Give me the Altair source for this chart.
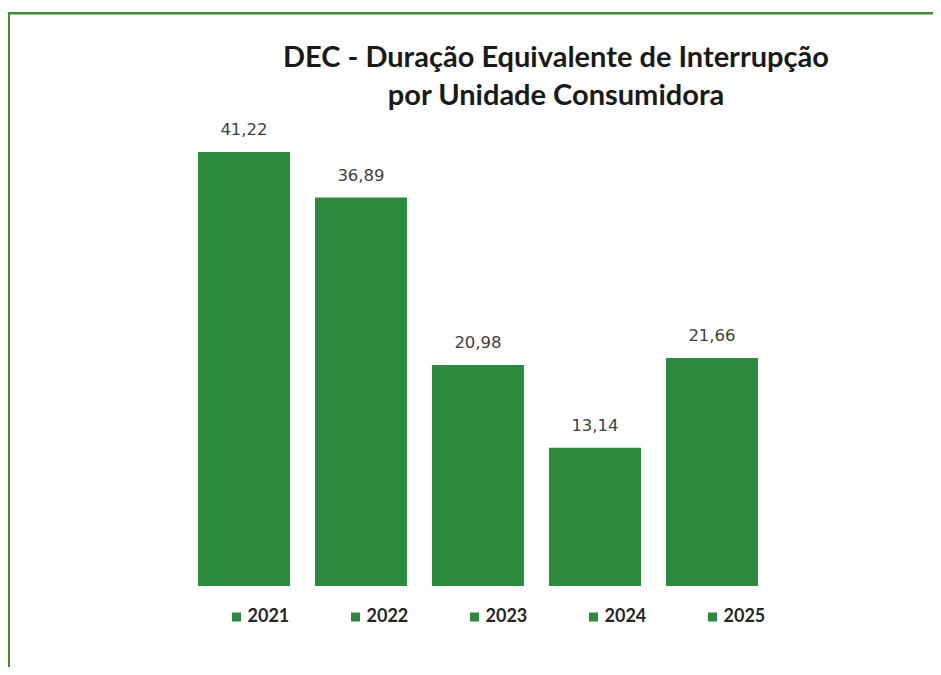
import altair as alt
import pandas as pd

years = ["2021", "2022", "2023", "2024", "2025"]
values = [41.22, 36.89, 20.98, 13.14, 21.66]
labels = ["41,22", "36,89", "20,98", "13,14", "21,66"]
title_lines = ["DEC - Duração Equivalente de Interrupção", "por Unidade Consumidora"]

GREEN = "#2b8a3e"

df = pd.DataFrame({"ano": years, "dec": values, "rotulo": labels})

x = alt.X("ano:N", axis=None,
          scale=alt.Scale(paddingInner=0.214, paddingOuter=0.107))
y = alt.Y("dec:Q", axis=None, scale=alt.Scale(domain=[0, 41.22], nice=False, zero=True))

border = alt.Chart(pd.DataFrame({"b": [0]})).mark_rect(
    fillOpacity=0, stroke="#3f8c33", strokeWidth=2.5
).encode(
    x=alt.value(-176.8), x2=alt.value(900),
    y=alt.value(-138.7), y2=alt.value(700),
)

bars = alt.Chart(df).mark_bar(color=GREEN).encode(
    x=x, y=y,
    color=alt.Color(
        "ano:N",
        scale=alt.Scale(domain=years, range=[GREEN] * 5),
        legend=alt.Legend(
            title=None, orient="none", direction="horizontal",
            legendX=42, legendY=456,
            symbolType="square", symbolSize=81, symbolStrokeWidth=0,
            labelFont="Lato", labelFontSize=18, labelFontWeight="bold",
            labelColor="#262626", labelOffset=2, columnPadding=57,
            padding=0,
        ),
    ),
)

text = alt.Chart(df).mark_text(
    baseline="middle", dy=-22, font="DejaVu Sans", fontSize=16.5, color="#404040"
).encode(x=x, y=y, text="rotulo:N")

chart = alt.layer(border, bars, text).properties(
    width=585, height=434,
    background="white",
    title=alt.TitleParams(
        text=title_lines, anchor="middle", dx=78, offset=-99,
        font="Lato", fontSize=29, fontWeight="bold", color="#1a1a1a", lineHeight=38,
    ),
    autosize=alt.AutoSizeParams(type="none"),
    padding={"left": 177.5, "top": 144, "right": 162.5, "bottom": 81},
).configure_view(stroke="transparent", strokeWidth=0)

chart.save("out.html", embed_options={"renderer": "svg", "actions": False})
